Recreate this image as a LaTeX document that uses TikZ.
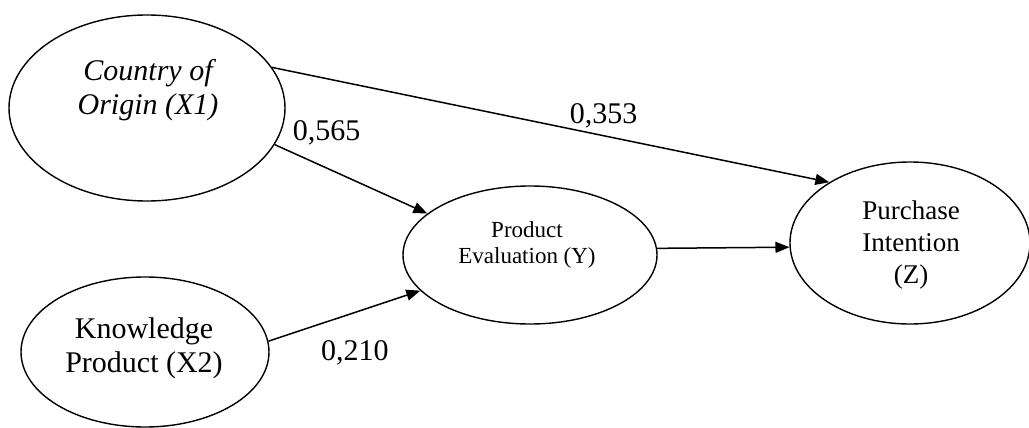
\documentclass[tikz,border=0pt]{standalone}
\usepackage{fontspec}
\setmainfont{Liberation Serif}
\usetikzlibrary{shapes.geometric, arrows.meta, positioning}

\begin{document}
\begin{tikzpicture}[
    x=1pt, y=-1pt,
    latent/.style={ellipse, draw=black, line width=1.4pt, inner sep=0pt},
    caption/.style={align=center, inner sep=0pt},
    coef/.style={font=\fontsize{30}{34}\selectfont, inner sep=0pt},
    arrow/.style={-{Triangle[length=14pt, width=11pt]}, line width=1.5pt, draw=black}
  ]
    \useasboundingbox (0,0) rectangle (1029,428);

    \node[latent, minimum width=276pt, minimum height=186pt] (x1) at (147,108) {};
    \node[latent, minimum width=248pt, minimum height=150pt] (x2) at (145,352) {};
    \node[latent, minimum width=254pt, minimum height=138pt] (y) at (530,255) {};
    \node[latent, minimum width=240pt, minimum height=162pt] (z) at (910,243) {};

    \node[caption, font=\itshape\fontsize{30}{34}\selectfont] (x1txt) at (148,90) {Country of\\Origin (X1)};
    \node[caption, font=\fontsize{30}{34}\selectfont] (x2txt) at (144,348) {Knowledge\\Product (X2)};
    \node[caption, font=\fontsize{23}{26}\selectfont] (ytxt) at (527,245) {Product\\Evaluation (Y)};
    \node[caption, font=\fontsize{27}{32}\selectfont] (ztxt) at (911,245) {Purchase\\Intention\\(Z)};

    % Paths
    \draw[arrow] (x1.18) -- node[coef, pos=0.595, yshift=20pt] {0,353} (z.143);
    \draw[arrow] (x1.-16) -- node[coef, pos=0.34, yshift=35pt] {0,565} (y.158);
    \draw[arrow] (x2.5.6) -- node[coef, pos=0.57, yshift=-40pt] {0,210} (y.198.6);
    \draw[arrow] (y.3.2) -- (z.182.4);

  \end{tikzpicture}
\end{document}
